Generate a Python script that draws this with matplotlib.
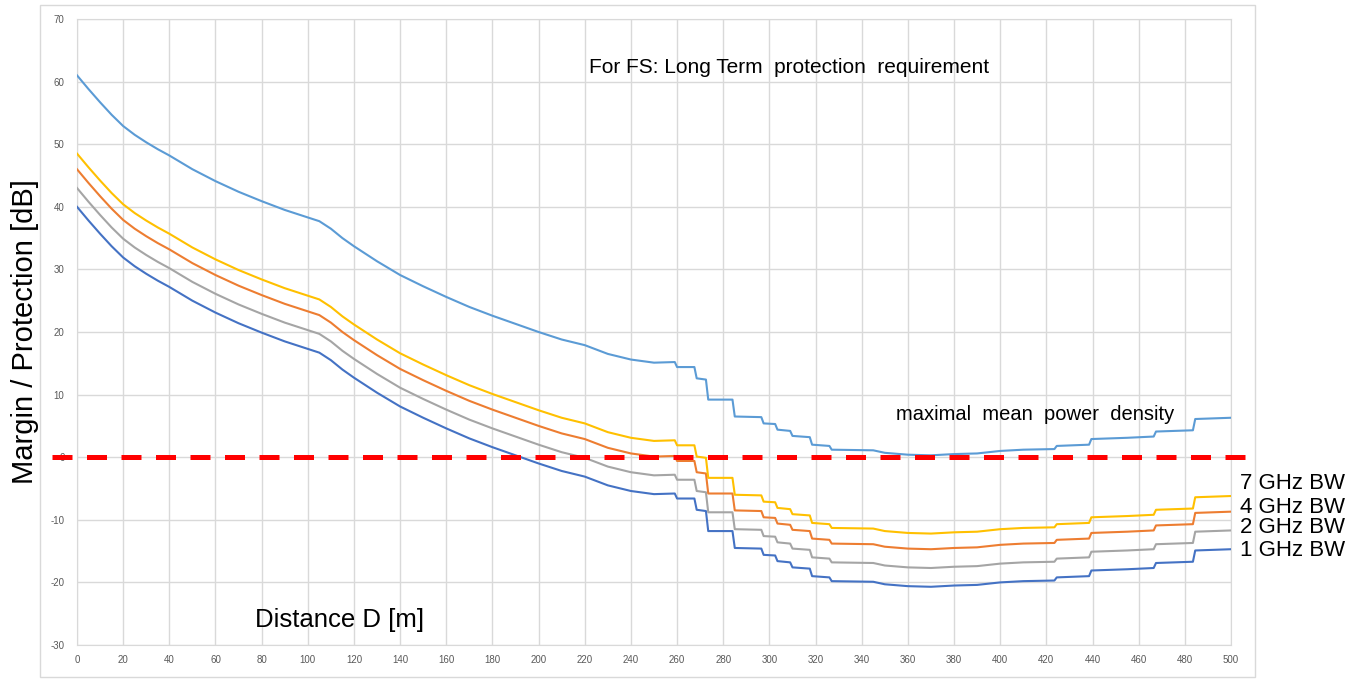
import matplotlib.pyplot as plt
from matplotlib.patches import Rectangle

# Distance grid (m), duplicated points mark the vertical steps
dist = [0, 5, 10, 15, 20, 25, 30, 35, 40, 50, 60, 70, 80, 90, 100, 105, 110,
        115, 120, 130, 140, 150, 160, 170, 180, 190, 200, 210, 220, 230, 240,
        250, 259, 260, 267.5, 268.5, 272.5, 273.5, 284, 285, 296.5, 297.5,
        302.5, 303.5, 309, 310, 317.5, 318.5, 326, 327, 345, 350, 360, 370,
        380, 390, 400, 410, 423.5, 424.5, 438.5, 439.5, 455, 466.5, 467.5,
        483.5, 484.5, 500]

# Margin / protection in dB
max_mean_psd = [61.0, 58.8, 56.7, 54.7, 52.9, 51.5, 50.3, 49.2, 48.2, 46.0,
                44.1, 42.4, 40.9, 39.5, 38.3, 37.7, 36.5, 35.0, 33.7, 31.3,
                29.1, 27.3, 25.6, 24.0, 22.6, 21.3, 20.0, 18.8, 17.9, 16.5,
                15.6, 15.1, 15.2, 14.4, 14.4, 12.6, 12.4, 9.2, 9.2, 6.5,
                6.4, 5.4, 5.3, 4.4, 4.2, 3.4, 3.2, 2.0, 1.8, 1.2,
                1.1, 0.7, 0.4, 0.3, 0.5, 0.6, 1.0, 1.2, 1.3, 1.8,
                2.0, 2.9, 3.1, 3.3, 4.1, 4.3, 6.1, 6.3]

bw_1ghz = [40.0, 37.8, 35.7, 33.7, 31.9, 30.5, 29.3, 28.2, 27.2, 25.0,
           23.1, 21.4, 19.9, 18.5, 17.3, 16.7, 15.5, 14.0, 12.7, 10.3,
           8.1, 6.3, 4.6, 3.0, 1.6, 0.3, -1.0, -2.2, -3.1, -4.5,
           -5.4, -5.9, -5.8, -6.6, -6.6, -8.4, -8.6, -11.8, -11.8, -14.5,
           -14.6, -15.6, -15.7, -16.6, -16.8, -17.6, -17.8, -19.0, -19.2, -19.8,
           -19.9, -20.3, -20.6, -20.7, -20.5, -20.4, -20.0, -19.8, -19.7, -19.2,
           -19.0, -18.1, -17.9, -17.7, -16.9, -16.7, -14.9, -14.7]

bw_2ghz = [43.0, 40.8, 38.7, 36.7, 34.9, 33.5, 32.3, 31.2, 30.2, 28.0,
           26.1, 24.4, 22.9, 21.5, 20.3, 19.7, 18.5, 17.0, 15.7, 13.3,
           11.1, 9.3, 7.6, 6.0, 4.6, 3.3, 2.0, 0.8, -0.1, -1.5,
           -2.4, -2.9, -2.8, -3.6, -3.6, -5.4, -5.6, -8.8, -8.8, -11.5,
           -11.6, -12.6, -12.7, -13.6, -13.8, -14.6, -14.8, -16.0, -16.2, -16.8,
           -16.9, -17.3, -17.6, -17.7, -17.5, -17.4, -17.0, -16.8, -16.7, -16.2,
           -16.0, -15.1, -14.9, -14.7, -13.9, -13.7, -11.9, -11.7]

bw_4ghz = [46.0, 43.8, 41.7, 39.7, 37.9, 36.5, 35.3, 34.2, 33.2, 31.0,
           29.1, 27.4, 25.9, 24.5, 23.3, 22.7, 21.5, 20.0, 18.7, 16.3,
           14.1, 12.3, 10.6, 9.0, 7.6, 6.3, 5.0, 3.8, 2.9, 1.5,
           0.6, 0.1, 0.2, -0.6, -0.6, -2.4, -2.6, -5.8, -5.8, -8.5,
           -8.6, -9.6, -9.7, -10.6, -10.8, -11.6, -11.8, -13.0, -13.2, -13.8,
           -13.9, -14.3, -14.6, -14.7, -14.5, -14.4, -14.0, -13.8, -13.7, -13.2,
           -13.0, -12.1, -11.9, -11.7, -10.9, -10.7, -8.9, -8.7]

bw_7ghz = [48.5, 46.3, 44.2, 42.2, 40.4, 39.0, 37.8, 36.7, 35.7, 33.5,
           31.6, 29.9, 28.4, 27.0, 25.8, 25.2, 24.0, 22.5, 21.2, 18.8,
           16.6, 14.8, 13.1, 11.5, 10.1, 8.8, 7.5, 6.3, 5.4, 4.0,
           3.1, 2.6, 2.7, 1.9, 1.9, 0.1, -0.1, -3.3, -3.3, -6.0,
           -6.1, -7.1, -7.2, -8.1, -8.3, -9.1, -9.3, -10.5, -10.7, -11.3,
           -11.4, -11.8, -12.1, -12.2, -12.0, -11.9, -11.5, -11.3, -11.2, -10.7,
           -10.5, -9.6, -9.4, -9.2, -8.4, -8.2, -6.4, -6.2]

bw_labels = ['7 GHz BW', '4 GHz BW', '2 GHz BW', '1 GHz BW']
bw_label_y = [-4.2, -8.0, -11.3, -14.9]

plt.rcParams['font.family'] = ['Liberation Sans', 'DejaVu Sans']
plt.rcParams['axes.unicode_minus'] = False

fig = plt.figure(figsize=(13.62, 6.79), dpi=100)
ax = fig.add_axes([77 / 1362, 34 / 679, 1154 / 1362, 626 / 679])

# chart frame
fig.patches.append(Rectangle((39.5 / 1362, 2 / 679), 1215.5 / 1362, 672 / 679,
                             transform=fig.transFigure, fill=False,
                             edgecolor='#d9d9d9', linewidth=1))

lw = 1.5
ax.plot(dist, max_mean_psd, color='#5b9bd5', lw=lw, zorder=3)
ax.plot(dist, bw_1ghz, color='#4472c4', lw=lw, zorder=3)
ax.plot(dist, bw_2ghz, color='#a5a5a5', lw=lw, zorder=3)
ax.plot(dist, bw_4ghz, color='#ed7d31', lw=lw, zorder=3)
ax.plot(dist, bw_7ghz, color='#ffc000', lw=lw, zorder=3)

# protection threshold
ax.plot([-10.8, 507], [0, 0], color='#ff0000', lw=3.6,
        dashes=(4, 2.9), clip_on=False, zorder=5)

ax.set_xlim(0, 500)
ax.set_ylim(-30, 70)
ax.set_xticks(range(0, 501, 20))
ax.set_yticks(range(-30, 71, 10))
ax.grid(True, color='#d9d9d9', lw=1)
ax.set_axisbelow(True)
for s in ax.spines.values():
    s.set_color('#d9d9d9')
ax.tick_params(length=0, labelsize=7, colors='#595959')
ax.tick_params(axis='y', pad=9)
ax.tick_params(axis='x', pad=7)

ax.set_ylabel('Margin / Protection [dB]', fontsize=21, labelpad=8)
ax.text(77, -26, 'Distance D [m]', fontsize=18.5, va='center', ha='left')
ax.text(222, 62.3, 'For FS: Long Term  protection  requirement', fontsize=15,
        va='center', ha='left')
ax.text(355, 6.8, 'maximal  mean  power  density', fontsize=14.5,
        va='center', ha='left')
for lab, yy in zip(bw_labels, bw_label_y):
    ax.text(504, yy, lab, fontsize=16, va='center', ha='left', clip_on=False)

fig.savefig('out.png', dpi=100)
